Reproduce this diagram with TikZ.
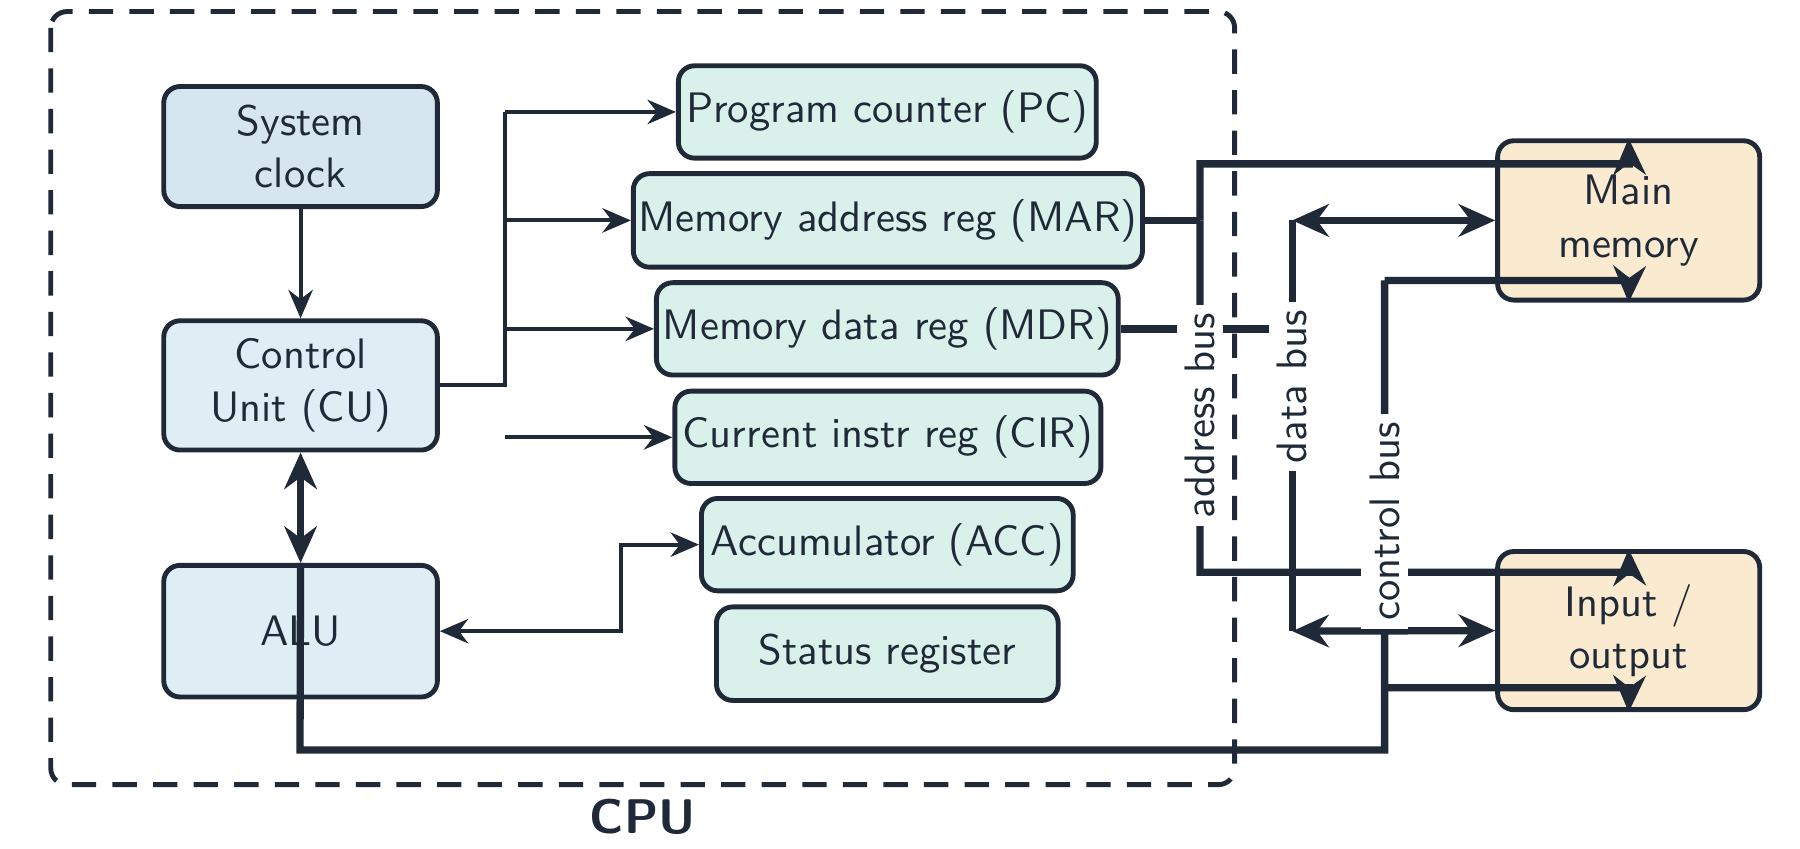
\documentclass[tikz,border=0pt]{standalone}
\usepackage{fontspec}
\usetikzlibrary{arrows.meta}
\definecolor{ink}{HTML}{1F2937}
\definecolor{clk}{HTML}{D5E6F0}
\definecolor{cu}{HTML}{DFEEF5}
\definecolor{reg}{HTML}{DAF0EA}
\definecolor{ext}{HTML}{FAEBD0}
\begin{document}
\begin{tikzpicture}[x=0.01cm,y=-0.01cm,
  font=\sffamily\fontsize{10.5}{13}\selectfont, text=ink,
  box/.style={draw=ink,line width=1.2pt,rounded corners=4pt,align=center,inner sep=0pt},
  thin/.style={draw=ink,line width=1pt,-{Stealth[length=7pt,width=6pt]}},
  bus/.style={draw=ink,line width=1.8pt},
  tip/.style={-{Stealth[length=9pt,width=8pt]}},
  lbl/.style={fill=white,rotate=90,inner sep=2pt,font=\sffamily\fontsize{10.5}{13}\selectfont}]
\useasboundingbox (0,0) rectangle (1560,735);
\draw[ink,line width=1.2pt,dashed,dash pattern=on 6pt off 4pt,rounded corners=4pt] (44,10) rectangle (1070,680);
\node[font=\sffamily\bfseries\fontsize{12}{14}\selectfont] (cpu) at (557,708) {CPU};
% CPU units
\node[box,fill=clk,minimum width=2.37cm,minimum height=1.04cm] (clk) at (260.5,127) {System\\clock};
\node[box,fill=cu,minimum width=2.37cm,minimum height=1.12cm] (cu) at (260.5,334) {Control\\Unit (CU)};
\node[box,fill=cu,minimum width=2.37cm,minimum height=1.14cm] (alu) at (260.5,547) {ALU};
% registers
\node[box,fill=reg,minimum width=3.62cm,minimum height=0.8cm] (pc) at (769,97) {Program counter (PC)};
\node[box,fill=reg,minimum width=4.41cm,minimum height=0.81cm] (mar) at (769.5,191) {Memory address reg (MAR)};
\node[box,fill=reg,minimum width=4.0cm,minimum height=0.8cm] (mdr) at (769,285) {Memory data reg (MDR)};
\node[box,fill=reg,minimum width=3.69cm,minimum height=0.8cm] (cir) at (769.5,379) {Current instr reg (CIR)};
\node[box,fill=reg,minimum width=3.22cm,minimum height=0.8cm] (acc) at (769,472) {Accumulator (ACC)};
\node[box,fill=reg,minimum width=2.96cm,minimum height=0.81cm] (sr) at (769,566.5) {Status register};
% external
\node[box,fill=ext,minimum width=2.27cm,minimum height=1.38cm] (mem) at (1411.5,191) {Main\\memory};
\node[box,fill=ext,minimum width=2.27cm,minimum height=1.37cm] (io) at (1411.5,546.5) {Input /\\output};
% thin connectors
\draw[thin] (clk) -- (cu);
\coordinate (j) at (438,334);
\draw[draw=ink,line width=1pt] (cu.east |- j) -- (j) -- (438,97);
\draw[thin] (438,97) -- (pc.west);
\draw[thin] (438,191) -- (mar.west);
\draw[thin] (438,285) -- (mdr.west);
\coordinate (cirs) at (438,379);
\draw[thin] (cirs) -- (cir.west);
\coordinate (ak) at (538,547);
\draw[thin,{Stealth[length=7pt,width=6pt]}-{Stealth[length=7pt,width=6pt]}] (alu.east) -- (ak) |- (acc.west);
% CU <-> ALU
\draw[bus,{Stealth[length=9pt,width=8pt]}-{Stealth[length=9pt,width=8pt]}] (cu.south) -- (alu.north);
% control bus
\coordinate (c0) at (260,650); \coordinate (c1) at (1200,650);
\draw[bus] (alu.north) -- (c0) -- (c1) -- (1200,243);
\draw[bus,tip] (1200,243) -- (1412,243) -- (mem.south);
\draw[bus,tip] (1200,596) -- (1412,596) -- (io.south);
% address bus
\draw[bus] (mar.east) -- (1040,191);
\draw[bus,tip] (1040,191) -- (1040,142) -- (1412,142) -- (mem.north);
\draw[bus,tip] (1040,191) -- (1040,496) -- (1412,496) -- (io.north);
% data bus
\draw[bus] (mdr.east) -- (1120,285);
\draw[bus,{Stealth[length=9pt,width=8pt]}-{Stealth[length=9pt,width=8pt]}] (1120,191) -- (mem.west);
\draw[bus,{Stealth[length=9pt,width=8pt]}-{Stealth[length=9pt,width=8pt]}] (1120,547) -- (io.west);
\draw[bus] (1120,191) -- (1120,547);
% labels
\node[lbl] (ab) at (1040,360) {address bus};
\node[lbl] (db) at (1120,335) {data bus};
\node[lbl] (cb) at (1200,452) {control bus};
\end{tikzpicture}
\end{document}
